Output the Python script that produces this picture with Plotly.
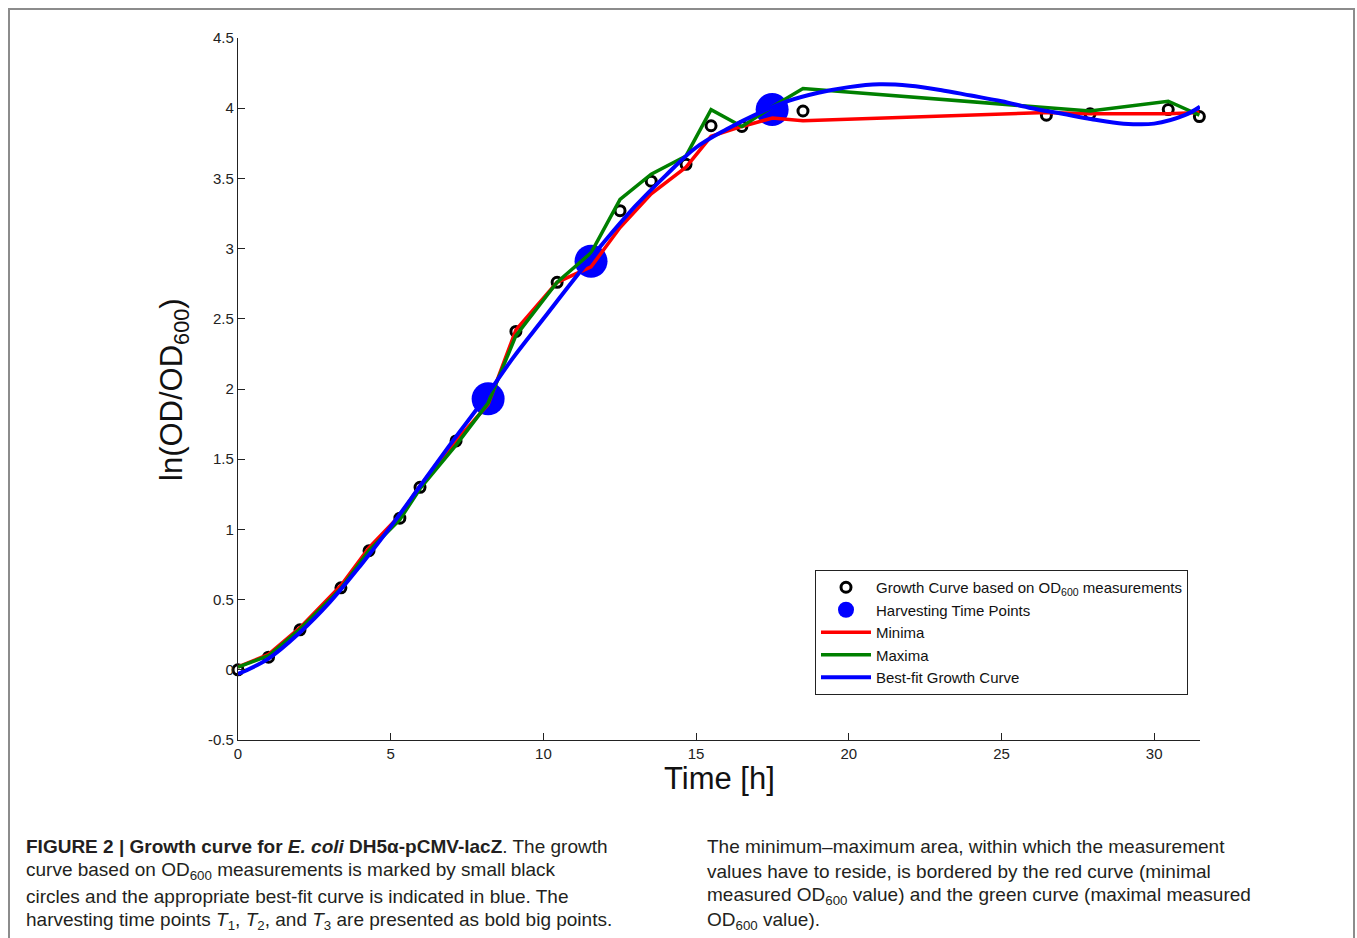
import plotly.graph_objects as go

# ---------------- data ----------------
time_meas = [0, 1.0, 2.03, 3.37, 4.29, 5.3, 5.96, 7.14, 8.19, 9.1, 10.45, 11.56,
             12.51, 13.53, 14.67, 15.49, 16.5, 17.5, 18.5, 26.47, 27.9, 30.46, 31.48]
od_meas = [0.0, 0.09, 0.285, 0.584, 0.848, 1.08, 1.30, 1.63, 1.92, 2.41, 2.76, 2.90,
           3.27, 3.48, 3.60, 3.875, 3.87, 3.98, 3.98, 3.95, 3.96, 3.99, 3.94]

harvest_t = [8.19, 11.56, 17.49]
harvest_od = [1.93, 2.91, 3.99]

minima = [0.02, 0.11, 0.30, 0.60, 0.87, 1.10, 1.31, 1.63, 1.89, 2.42, 2.76, 2.87,
          3.15, 3.39, 3.58, 3.80, 3.87, 3.93, 3.91, 3.97, 3.96, 3.96, 3.97]
maxima = [0.02, 0.10, 0.29, 0.58, 0.85, 1.07, 1.29, 1.60, 1.90, 2.38, 2.76, 2.97,
          3.35, 3.53, 3.66, 3.99, 3.87, 4.01, 4.14, 4.00, 3.98, 4.05, 3.95]

fit_t = [0, 1, 2, 3, 4, 5, 6, 7, 8, 9, 10, 11, 12, 13, 14, 15, 16, 17, 18, 19,
         20, 21, 22, 23, 24, 25, 26, 27, 28, 29, 30, 31, 31.5]
fit_od = [-0.03, 0.08, 0.26, 0.48, 0.74, 1.02, 1.32, 1.62, 1.91, 2.22, 2.50, 2.78,
          3.05, 3.30, 3.52, 3.72, 3.85, 3.96, 4.05, 4.11, 4.15, 4.17, 4.16, 4.13,
          4.09, 4.05, 4.00, 3.96, 3.92, 3.89, 3.89, 3.95, 4.01]

y_ticks = [-0.5, 0, 0.5, 1, 1.5, 2, 2.5, 3, 3.5, 4, 4.5]
y_tick_labels = ["-0.5", "0", "0.5", "1", "1.5", "2", "2.5", "3", "3.5", "4", "4.5"]
x_ticks = [0, 5, 10, 15, 20, 25, 30]

caption_left = [
    "<b>FIGURE 2 | Growth curve for <i>E. coli</i> DH5α-pCMV-lacZ</b>. The growth",
    "curve based on OD<sub>600</sub> measurements is marked by small black",
    "circles and the appropriate best-fit curve is indicated in blue. The",
    "harvesting time points <i>T</i><sub>1</sub>, <i>T</i><sub>2</sub>, and <i>T</i><sub>3</sub> are presented as bold big points.",
]
caption_right = [
    "The minimum–maximum area, within which the measurement",
    "values have to reside, is bordered by the red curve (minimal",
    "measured OD<sub>600</sub> value) and the green curve (maximal measured",
    "OD<sub>600</sub> value).",
]

# ---------------- layout geometry (pixels) ----------------
W, H = 1357, 938
L, R, T, B = 238, 1200, 38, 740
pw, ph = R - L, B - T

def px(xp):
    return (xp - L) / pw

def py(yp):
    return (B - yp) / ph

FONT = "Liberation Sans, Arial, sans-serif"

fig = go.Figure()

fig.add_trace(go.Scatter(
    x=time_meas, y=od_meas, mode="markers", cliponaxis=False,
    name="Growth Curve based on OD<sub>600</sub> measurements",
    marker=dict(symbol="circle-open", size=10, color="black",
                line=dict(width=3, color="black")),
))
fig.add_trace(go.Scatter(
    x=harvest_t, y=harvest_od, mode="markers",
    name="Harvesting Time Points",
    marker=dict(symbol="circle", size=33, color="#0000ff",
                line=dict(width=0)),
))
fig.add_trace(go.Scatter(
    x=time_meas, y=minima, mode="lines", name="Minima",
    line=dict(color="#ff0000", width=3.5),
))
fig.add_trace(go.Scatter(
    x=time_meas, y=maxima, mode="lines", name="Maxima",
    line=dict(color="#008000", width=3.5),
))
fig.add_trace(go.Scatter(
    x=fit_t, y=fit_od, mode="lines", name="Best-fit Growth Curve",
    line=dict(color="#0000ff", width=4, shape="spline", smoothing=1.0),
))

fig.update_xaxes(
    range=[0, 31.5], tickvals=x_ticks, ticktext=[str(v) for v in x_ticks],
    ticks="inside", ticklen=7, tickcolor="#222", showline=True, linecolor="#222",
    linewidth=1.2, showgrid=False, zeroline=False,
    tickfont=dict(family=FONT, size=15, color="#222"), mirror=False,
)
fig.update_yaxes(
    range=[-0.5, 4.5], tickvals=y_ticks, ticktext=y_tick_labels,
    ticks="inside", ticklen=7, tickcolor="#222", showline=True, linecolor="#222",
    linewidth=1.2, showgrid=False, zeroline=False,
    tickfont=dict(family=FONT, size=15, color="#222"), mirror=False,
)

annotations = [
    dict(text="Time [h]", x=px(719), y=py(778), xref="paper", yref="paper",
         showarrow=False, font=dict(family=FONT, size=31, color="#111"),
         xanchor="center", yanchor="middle"),
    dict(text="ln(OD/OD<sub>600</sub>)", x=px(174), y=py(390), xref="paper",
         yref="paper", showarrow=False, textangle=-90,
         font=dict(family=FONT, size=31, color="#111"),
         xanchor="center", yanchor="middle"),
]
line_y = [846, 871, 896, 921]
for txt, yy in zip(caption_left, line_y):
    annotations.append(dict(text=txt, x=px(24), y=py(yy), xref="paper", yref="paper",
                            showarrow=False, xanchor="left", yanchor="middle",
                            font=dict(family=FONT, size=19, color="#231f20")))
for txt, yy in zip(caption_right, line_y):
    annotations.append(dict(text=txt, x=px(705), y=py(yy), xref="paper", yref="paper",
                            showarrow=False, xanchor="left", yanchor="middle",
                            font=dict(family=FONT, size=19, color="#231f20")))

fig.update_layout(
    width=W, height=H,
    margin=dict(l=L, r=W - R, t=T, b=H - B, pad=0),
    paper_bgcolor="white", plot_bgcolor="white",
    showlegend=True,
    legend=dict(x=px(815), y=py(570), xanchor="left", yanchor="top",
                bordercolor="#222", borderwidth=1, bgcolor="white",
                font=dict(family=FONT, size=15, color="#111"),
                itemsizing="trace", itemwidth=50, tracegroupgap=0),
    annotations=annotations,
    shapes=[dict(type="rect", xref="paper", yref="paper",
                 x0=px(9), x1=px(1354), y0=py(960), y1=py(9),
                 line=dict(color="#8c8c8c", width=2), layer="below")],
)

fig.write_html("out.html",
               config={"displayModeBar": False},
               post_script="document.body.style.margin='0';document.body.style.overflow='hidden';")
